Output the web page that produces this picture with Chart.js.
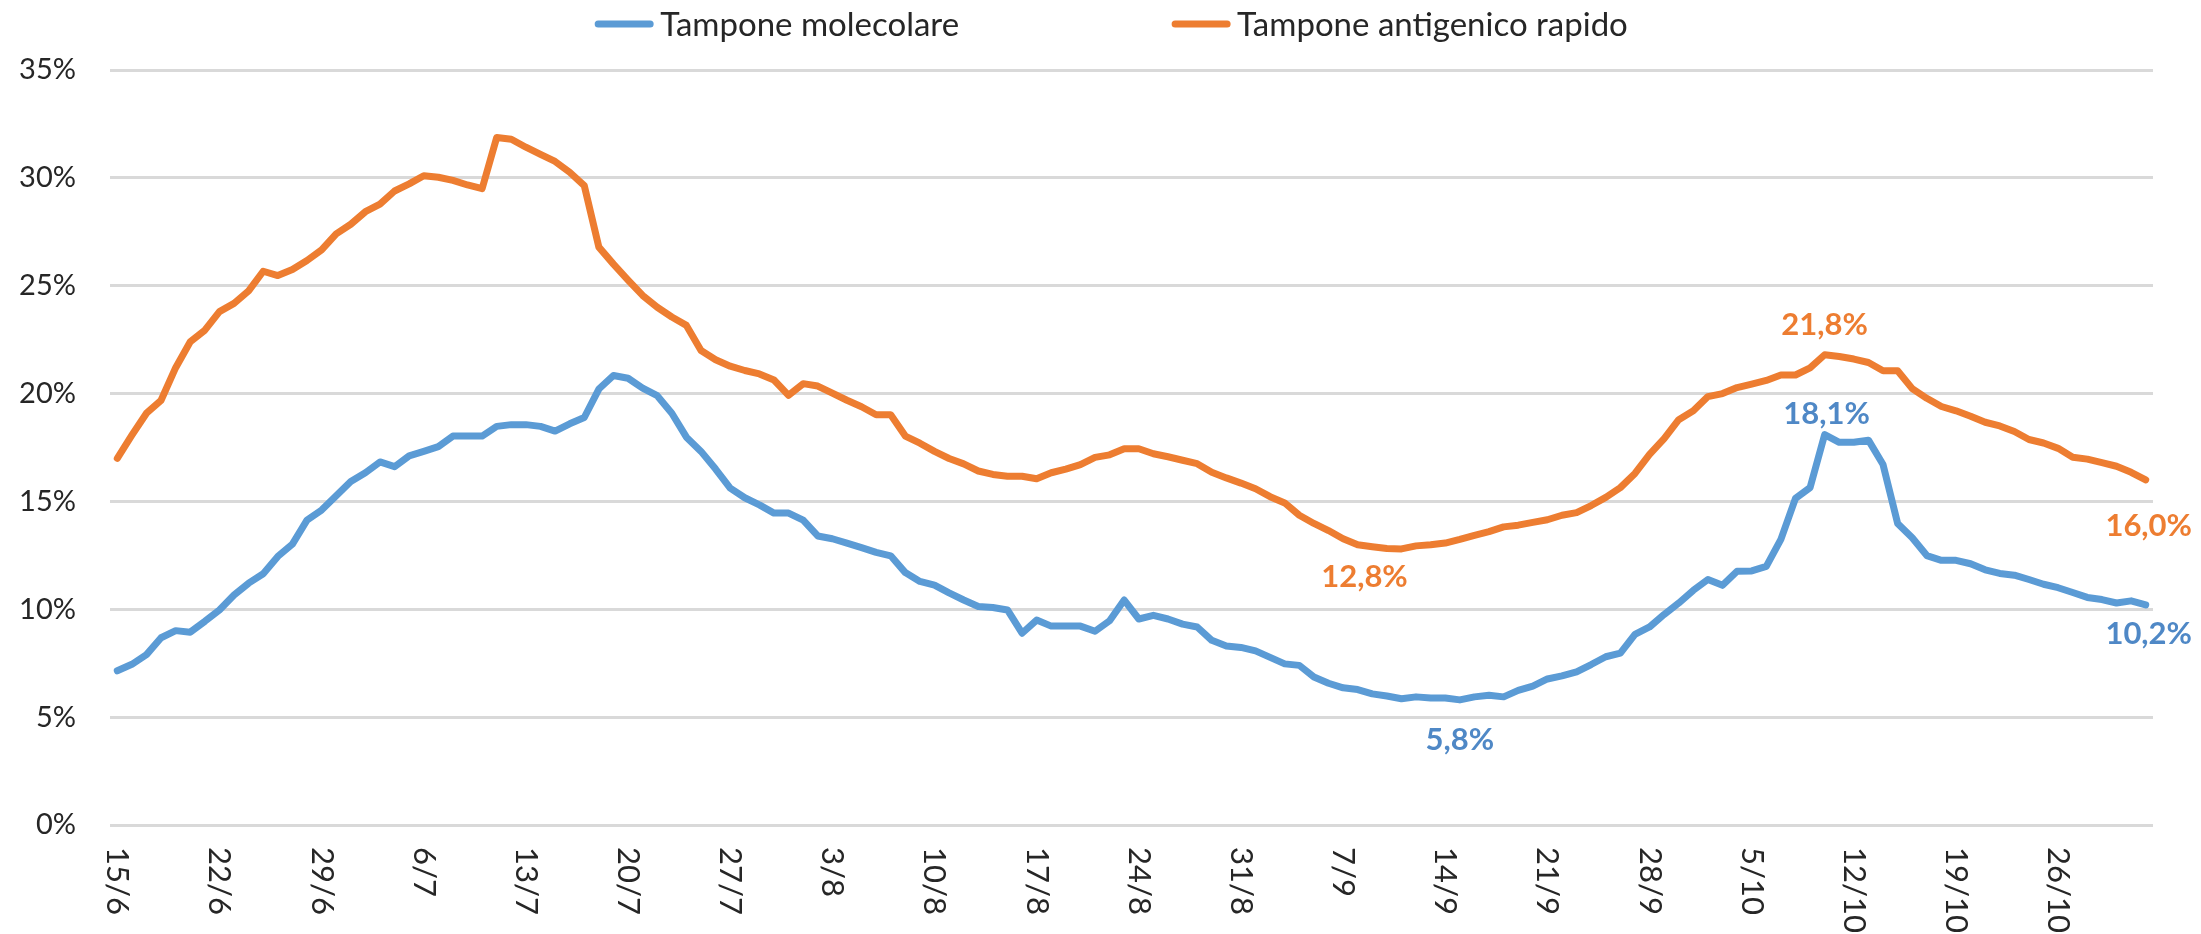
<!DOCTYPE html>
<html>
<head>
<meta charset="utf-8">
<script src="https://cdn.jsdelivr.net/npm/chart.js@4.4.1/dist/chart.umd.min.js"></script>
<style>
  html, body { margin: 0; padding: 0; background: #ffffff; }
  #wrap { width: 2201px; height: 934px; position: relative; }
</style>
</head>
<body>
<div id="wrap"><canvas id="c" width="2201" height="934"></canvas></div>
<script>
// ---- Data ----
const categories = [
  '15/6','16/6','17/6','18/6','19/6','20/6','21/6','22/6','23/6','24/6','25/6','26/6','27/6','28/6','29/6','30/6',
  '1/7','2/7','3/7','4/7','5/7','6/7','7/7','8/7','9/7','10/7','11/7','12/7','13/7','14/7','15/7','16/7','17/7','18/7','19/7','20/7','21/7','22/7','23/7','24/7','25/7','26/7','27/7','28/7','29/7','30/7','31/7',
  '1/8','2/8','3/8','4/8','5/8','6/8','7/8','8/8','9/8','10/8','11/8','12/8','13/8','14/8','15/8','16/8','17/8','18/8','19/8','20/8','21/8','22/8','23/8','24/8','25/8','26/8','27/8','28/8','29/8','30/8','31/8',
  '1/9','2/9','3/9','4/9','5/9','6/9','7/9','8/9','9/9','10/9','11/9','12/9','13/9','14/9','15/9','16/9','17/9','18/9','19/9','20/9','21/9','22/9','23/9','24/9','25/9','26/9','27/9','28/9','29/9','30/9',
  '1/10','2/10','3/10','4/10','5/10','6/10','7/10','8/10','9/10','10/10','11/10','12/10','13/10','14/10','15/10','16/10','17/10','18/10','19/10','20/10','21/10','22/10','23/10','24/10','25/10','26/10','27/10','28/10','29/10','30/10','31/10',
  '1/11'
];

const tickLabels = ['15/6','22/6','29/6','6/7','13/7','20/7','27/7','3/8','10/8','17/8','24/8','31/8','7/9','14/9','21/9','28/9','5/10','12/10','19/10','26/10'];

const yTicks = [0, 5, 10, 15, 20, 25, 30, 35];

const molecolare = [
  7.15, 7.45, 7.9, 8.68, 9.01, 8.94, 9.44, 9.97, 10.66, 11.21,
  11.65, 12.45, 13.02, 14.13, 14.6, 15.26, 15.92, 16.33, 16.83, 16.61,
  17.11, 17.32, 17.54, 18.03, 18.03, 18.03, 18.48, 18.56, 18.56, 18.48,
  18.26, 18.6, 18.89, 20.21, 20.84, 20.71, 20.25, 19.9, 19.09, 17.98,
  17.32, 16.5, 15.62, 15.17, 14.84, 14.46, 14.46, 14.13, 13.4, 13.27,
  13.07, 12.86, 12.64, 12.48, 11.7, 11.29, 11.12, 10.76, 10.43, 10.13,
  10.08, 9.97, 8.89, 9.5, 9.22, 9.22, 9.22, 8.98, 9.47, 10.43,
  9.55, 9.72, 9.55, 9.31, 9.18, 8.56, 8.3, 8.23, 8.07, 7.77,
  7.47, 7.4, 6.86, 6.57, 6.36, 6.28, 6.08, 5.98, 5.85, 5.94,
  5.89, 5.89, 5.8, 5.94, 6.01, 5.94, 6.24, 6.44, 6.77, 6.91,
  7.1, 7.44, 7.8, 7.97, 8.84, 9.18, 9.76, 10.29, 10.88, 11.38,
  11.11, 11.76, 11.78, 11.99, 13.24, 15.14, 15.64, 18.1, 17.74, 17.74,
  17.84, 16.71, 13.98, 13.32, 12.49, 12.27, 12.27, 12.11, 11.83, 11.66,
  11.58, 11.38, 11.16, 11.0, 10.78, 10.55, 10.45, 10.29, 10.39, 10.2
];

const antigenico = [
  17.0, 18.07, 19.09, 19.69, 21.2, 22.4, 22.94, 23.8, 24.18, 24.76,
  25.67, 25.47, 25.75, 26.17, 26.66, 27.4, 27.85, 28.43, 28.78, 29.39,
  29.72, 30.1, 30.03, 29.88, 29.67, 29.5, 31.87, 31.79, 31.42, 31.09,
  30.76, 30.26, 29.64, 26.79, 26.0, 25.26, 24.55, 24.0, 23.55, 23.16,
  22.0, 21.57, 21.27, 21.07, 20.91, 20.63, 19.92, 20.46, 20.35, 20.02,
  19.69, 19.39, 19.02, 19.02, 18.03, 17.7, 17.32, 16.99, 16.74, 16.41,
  16.25, 16.17, 16.17, 16.05, 16.33, 16.5, 16.71, 17.04, 17.16, 17.44,
  17.44, 17.21, 17.07, 16.91, 16.75, 16.35, 16.09, 15.85, 15.59, 15.22,
  14.93, 14.36, 13.98, 13.65, 13.27, 12.99, 12.9, 12.82, 12.8, 12.94,
  12.99, 13.07, 13.24, 13.43, 13.6, 13.82, 13.9, 14.03, 14.15, 14.36,
  14.48, 14.81, 15.19, 15.64, 16.3, 17.18, 17.91, 18.79, 19.2, 19.86,
  20.0, 20.28, 20.44, 20.61, 20.86, 20.86, 21.19, 21.8, 21.72, 21.6,
  21.44, 21.06, 21.06, 20.23, 19.78, 19.4, 19.2, 18.95, 18.67, 18.5,
  18.24, 17.87, 17.71, 17.46, 17.05, 16.96, 16.8, 16.63, 16.35, 16.0
];

const seriesNames = ['Tampone molecolare', 'Tampone antigenico rapido'];

// points that carry a value label: [dataset index, category index]
const labelledPoints = [[1, 117], [0, 117], [1, 88], [0, 92], [1, 139], [0, 139]];

// ---- Styling ----
const BLUE = '#5B9BD5';
const ORANGE = '#ED7D31';
const BLUE_TXT = '#4F88C6';
const ORANGE_TXT = '#ED7D31';
const TXT = '#262626';

// label offsets (relative to point), keyed by position in labelledPoints
const labelOffsets = [[0, -30], [2, -21], [-37, 28], [0, 40], [3, 46], [3, 29]];

const fmt = v => v.toFixed(1).replace('.', ',') + '%';

const legendPlugin = {
  id: 'customLegend',
  afterDraw(chart) {
    const ctx = chart.ctx;
    ctx.save();
    ctx.font = '400 33px Lato, "Liberation Sans", sans-serif';
    ctx.textBaseline = 'middle';
    ctx.textAlign = 'left';
    const y = 24;
    const lineLen = 60, gapLineText = 6, gapItems = 212;
    const colors = [BLUE, ORANGE];
    const widths = seriesNames.map(t => ctx.measureText(t).width);
    const total = widths.reduce((a, w) => a + lineLen + gapLineText + w, 0) + gapItems;
    let x = 1111 - total / 2;
    seriesNames.forEach((name, i) => {
      ctx.strokeStyle = colors[i];
      ctx.lineWidth = 7;
      ctx.lineCap = 'round';
      ctx.beginPath();
      ctx.moveTo(x + 4, y);
      ctx.lineTo(x + lineLen - 4, y);
      ctx.stroke();
      ctx.fillStyle = TXT;
      ctx.fillText(name, x + lineLen + gapLineText, y + 1);
      x += lineLen + gapLineText + widths[i] + gapItems;
    });
    ctx.restore();
  }
};

const xLabelPlugin = {
  id: 'xLabels',
  afterDraw(chart) {
    const ctx = chart.ctx;
    const xs = chart.scales.x;
    const top = chart.chartArea.bottom + 22;
    ctx.save();
    ctx.font = '400 31px Lato, "Liberation Sans", sans-serif';
    ctx.fillStyle = TXT;
    ctx.textAlign = 'left';
    ctx.textBaseline = 'middle';
    tickLabels.forEach(lbl => {
      const idx = categories.indexOf(lbl);
      const x = xs.getPixelForValue(idx);
      ctx.save();
      ctx.translate(x, top);
      ctx.rotate(Math.PI / 2);
      ctx.fillText(lbl, 0, 0);
      ctx.restore();
    });
    ctx.restore();
  }
};

const valueLabelPlugin = {
  id: 'valueLabels',
  afterDatasetsDraw(chart) {
    const ctx = chart.ctx;
    ctx.save();
    ctx.font = '700 31px Lato, "Open Sans", sans-serif';
    ctx.textAlign = 'center';
    ctx.textBaseline = 'middle';
    labelledPoints.forEach(([ds, idx], k) => {
      const pt = chart.getDatasetMeta(ds).data[idx];
      const v = chart.data.datasets[ds].data[idx];
      const [dx, dy] = labelOffsets[k];
      ctx.fillStyle = ds === 0 ? BLUE_TXT : ORANGE_TXT;
      ctx.fillText(fmt(v), pt.x + dx, pt.y + dy);
    });
    ctx.restore();
  }
};

new Chart(document.getElementById('c'), {
  type: 'line',
  data: {
    labels: categories,
    datasets: [
      { label: seriesNames[0], data: molecolare, borderColor: BLUE, backgroundColor: BLUE,
        borderWidth: 7, pointRadius: 0, tension: 0, borderCapStyle: 'round', borderJoinStyle: 'round', fill: false },
      { label: seriesNames[1], data: antigenico, borderColor: ORANGE, backgroundColor: ORANGE,
        borderWidth: 7, pointRadius: 0, tension: 0, borderCapStyle: 'round', borderJoinStyle: 'round', fill: false }
    ]
  },
  options: {
    responsive: false,
    devicePixelRatio: 1,
    animation: false,
    events: [],
    layout: { padding: { top: 70, right: 48, left: 0, bottom: 0 } },
    plugins: { legend: { display: false }, tooltip: { enabled: false } },
    scales: {
      x: {
        type: 'category',
        offset: true,
        grid: { display: false, drawTicks: false },
        border: { display: false },
        ticks: { display: false, autoSkip: false },
        afterFit: s => { s.height = 109; }
      },
      y: {
        min: 0, max: 35,
        afterBuildTicks: s => { s.ticks = yTicks.map(v => ({ value: v })); },
        grid: { color: '#D9D9D9', lineWidth: 3, drawTicks: false },
        border: { display: false },
        ticks: {
          callback: v => v + '%',
          color: TXT,
          padding: 34,
          font: { family: 'Lato, "Liberation Sans", sans-serif', size: 29 }
        },
        afterFit: s => { s.width = 110; }
      }
    }
  },
  plugins: [legendPlugin, xLabelPlugin, valueLabelPlugin]
});
</script>
</body>
</html>
